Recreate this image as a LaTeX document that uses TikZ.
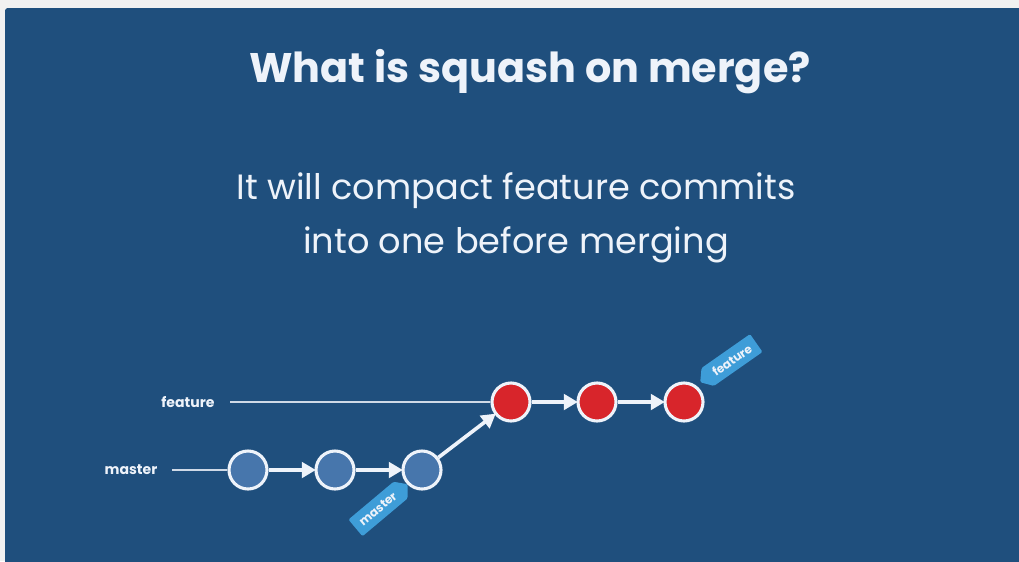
\documentclass[tikz,border=0pt]{standalone}
\usepackage{fontspec}
\setmainfont{Poppins}
\usetikzlibrary{arrows.meta,positioning,shapes.symbols}
\definecolor{slideblue}{HTML}{1F4F7D}
\definecolor{pagegray}{HTML}{F1F1F1}
\definecolor{commitblue}{HTML}{4776AC}
\definecolor{commitred}{HTML}{D8252B}
\definecolor{tagblue}{HTML}{3E9DD8}
\definecolor{inkwhite}{HTML}{EEF3FA}
\tikzset{
  commit/.style={circle, draw=inkwhite, line width=2.2pt, minimum size=0.95cm, inner sep=0pt},
  flow/.style={-{Triangle[length=10pt,width=11pt]}, draw=inkwhite, line width=2.6pt, shorten >=-1pt},
  track/.style={draw=inkwhite!85!slideblue, line width=1.3pt},
  branch/.style={text=inkwhite, font=\bfseries\fontsize{10}{10}\selectfont},
  tag/.style={shape=signal, fill=tagblue, text=inkwhite, font=\bfseries\fontsize{8.5}{8.5}\selectfont,
    minimum height=15.5pt, inner xsep=5pt, inner ysep=0pt, signal pointer angle=100, rounded corners=1pt}
}
\begin{document}
\begin{tikzpicture}[x=0.025cm, y=-0.025cm]
\useasboundingbox (0,0) rectangle (1019,561);
\fill[pagegray] (0,0) rectangle (1019,561);
\fill[slideblue, rounded corners=2pt] (5,8) rectangle (1024,566);
% headings
\node (title) at (530,72) [text=inkwhite, font=\bfseries\fontsize{29.4}{29.4}\selectfont] {What is squash on merge?};
\node (sub) at (516,218) [text=inkwhite, align=center, font=\fontsize{25}{38}\selectfont] {It will compact feature commits\\into one before merging};
% branch names
\node (flabel) at (188,402) [branch] {feature};
\node (mlabel) at (131,470) [branch] {master};
\coordinate (fstart) at (230,402);
\coordinate (mstart) at (172,470);
% commits
\node (m1) at (248,470) [commit, fill=commitblue] {};
\node (m2) at (335,470) [commit, fill=commitblue] {};
\node (m3) at (422,470) [commit, fill=commitblue] {};
\node (f1) at (511,402) [commit, fill=commitred] {};
\node (f2) at (597,402) [commit, fill=commitred] {};
\node (f3) at (684,402) [commit, fill=commitred] {};
\draw[track] (mstart) -- (m1);
\draw[track] (fstart) -- (f1);
\draw[flow] (m1) -- (m2);
\draw[flow] (m2) -- (m3);
\draw[flow] (m3) -- (f1);
\draw[flow] (f1) -- (f2);
\draw[flow] (f2) -- (f3);
% pointers
\node (mtag) at (378,509) [tag, signal to=east, rotate=40] {master};
\node (ftag) at (732,360) [tag, signal to=west, rotate=35] {feature};
\end{tikzpicture}
\end{document}
